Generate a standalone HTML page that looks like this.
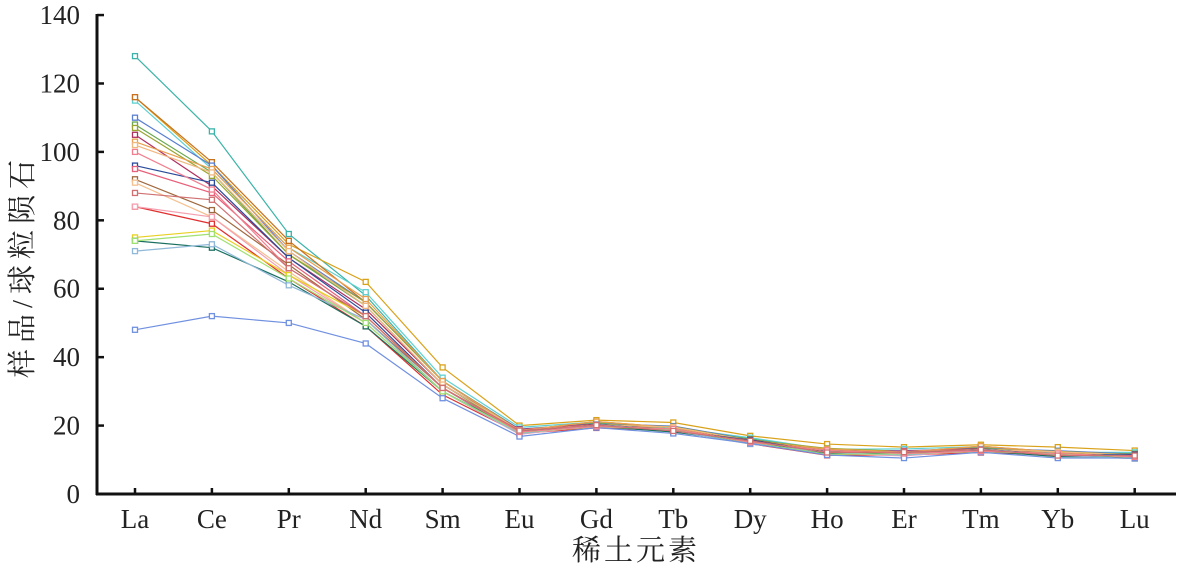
<!DOCTYPE html>
<html><head><meta charset="utf-8"><style>
body{margin:0;background:#fff;}
svg text{font-family:"Liberation Serif","Noto Serif CJK SC",serif;fill:#222;}
</style></head><body>
<svg id="s" width="1182" height="567" xmlns="http://www.w3.org/2000/svg">
<g stroke="#111" stroke-width="3" fill="none">
<line x1="97" y1="14" x2="97" y2="495"/>
<line x1="96" y1="494" x2="1176" y2="494"/>
</g>
<g id="ticks" stroke="#111" stroke-width="2.5"></g>
<g id="lab" font-size="27" text-anchor="end"></g>
<g id="xl" font-size="27" text-anchor="middle"></g>
<text x="636" y="560" font-size="29" letter-spacing="3" text-anchor="middle">稀土元素</text>
<text transform="translate(32,266) rotate(-90)" font-size="29" letter-spacing="6" text-anchor="middle">样品/球粒陨石</text>
<g id="series"></g>
</svg>
<script>
var NS="http://www.w3.org/2000/svg";
function el(t,a,p){var e=document.createElementNS(NS,t);for(var k in a)e.setAttribute(k,a[k]);p.appendChild(e);return e;}
var Y=function(v){return 494-v*3.421;};
var X=function(i){return 135+i*76.9;};
var tk=document.getElementById('ticks'),lab=document.getElementById('lab'),xl=document.getElementById('xl');
for(var v=0;v<=140;v+=20){var y=Y(v);if(v>0)el('line',{x1:97,y1:y,x2:104,y2:y},tk);var t=el('text',{x:80,y:y+9},lab);t.textContent=v;}
var els=["La","Ce","Pr","Nd","Sm","Eu","Gd","Tb","Dy","Ho","Er","Tm","Yb","Lu"];
els.forEach(function(n,i){el('line',{x1:X(i),y1:494,x2:X(i),y2:488},tk);var t=el('text',{x:X(i),y:528},xl);t.textContent=n;});
var L=[[128,106,76,58,33,'#3bb3a8'],[116,96,73,62,37,'#d9a21b'],[115,95,72,59,34,'#5fd0d0'],[116,97,74,56,33,'#c8701e'],[110,96,71,56,33,'#5a7fd0'],[108,94,70,55,32,'#6aa84f'],[107,93,70,56,33,'#9aa530'],[105,90,69,54,32,'#b03060'],[103,95,72,57,33,'#e8a050'],[102,94,71,55,32,'#f0b880'],[96,91,69,53,31,'#2a4a9a'],[95,88,68,52,31,'#e8607a'],[92,83,67,51,31,'#a06a40'],[91,81,65,50,30,'#f5c090'],[84,79,63,49,29,'#e03030'],[84,81,64,50,30,'#f4a0b0'],[75,77,64,52,31,'#e8d020'],[74,72,62,49,30,'#1a7060'],[71,73,61,51,30,'#90b8d8'],[74,76,63,50,30,'#a0e070'],[48,52,50,44,28,'#7090e0'],[100,89,66,52,31,'#f08090'],[88,86,66,52,31,'#d07070']];
var H=[18.8,20.8,19.5,16,13,12.5,13.6,12.3,11.7];
var sg=document.getElementById('series');
L.forEach(function(s,j){var f=(s[4]-28)/9;var vals=s.slice(0,5);
H.forEach(function(h,k){vals.push(h-1.6+f*2.8+((j*7+k*3)%5-2)*0.2);});
var pts=vals.map(function(v,i){return X(i)+','+Y(v);}).join(' ');
el('polyline',{points:pts,fill:'none',stroke:s[5],'stroke-width':1.2},sg);
vals.forEach(function(v,i){el('rect',{x:X(i)-2.5,y:Y(v)-2.5,width:5,height:5,fill:'#fff',stroke:s[5],'stroke-width':1.3},sg);});
});
</script>
</body></html>
